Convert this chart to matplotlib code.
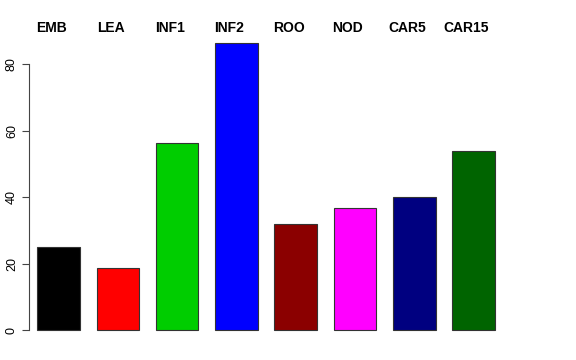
import matplotlib
matplotlib.use("Agg")
import matplotlib.pyplot as plt

categories = ["EMB", "LEA", "INF1", "INF2", "ROO", "NOD", "CAR5", "CAR15"]
values = [25.0, 18.6, 56.2, 86.3, 31.9, 36.7, 40.0, 53.8]
colors = ["#000000", "#FF0000", "#00CD00", "#0000FF", "#8B0000", "#FF00FF", "#000080", "#006400"]
yticks = [0, 20, 40, 60, 80]

plt.rcParams['font.family'] = ['Liberation Sans', 'DejaVu Sans']

fig = plt.figure(figsize=(5.76, 3.6), dpi=100)
W, H = 576, 360
left_px, right_px = 29, 530
top_px, bot_px = 31.6, 341.5
ax = fig.add_axes([left_px / W, (H - bot_px) / H, (right_px - left_px) / W, (bot_px - top_px) / H])

pitch = 59.3
c0 = 58.5
xs = list(range(len(categories)))
ax.bar(xs, values, width=42.5 / pitch, color=colors, edgecolor="#333333", linewidth=0.8)
ax.set_xlim((left_px - c0) / pitch, (right_px - c0) / pitch)
ymax = max(values)
ax.set_ylim(-0.04 * ymax, ymax * 1.04)

for s in ["top", "right", "bottom"]:
    ax.spines[s].set_visible(False)
ax.spines["left"].set_bounds(0, 80)
ax.spines["left"].set_color("#444444")
ax.spines["left"].set_linewidth(0.8)
ax.set_xticks([])
ax.set_yticks(yticks)
ax.set_yticklabels([str(v) for v in yticks], rotation=90, va="center", fontsize=9)
ax.tick_params(axis="y", length=5, width=0.8, color="#444444", pad=3)

label_y = (bot_px - 28) / (bot_px - top_px)
for i, c in enumerate(categories):
    ax.text(i - 0.12, label_y, c, transform=ax.get_xaxis_transform(), ha="center", va="center",
            fontsize=10, fontweight="bold")

fig.savefig("out.png", dpi=100)
